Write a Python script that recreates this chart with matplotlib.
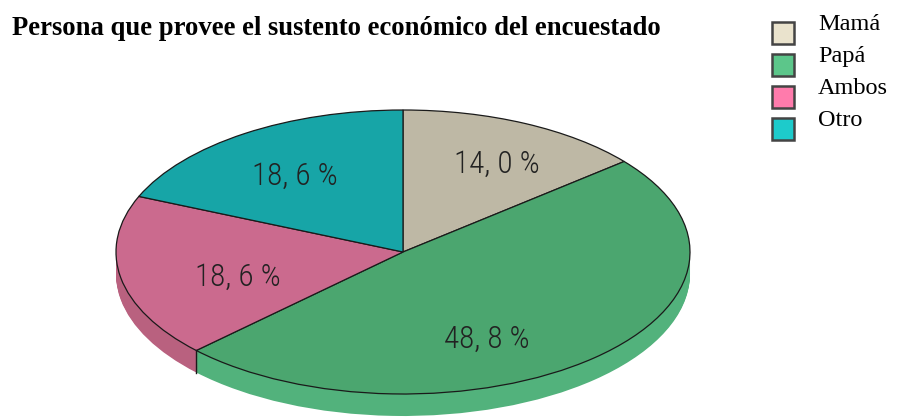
import matplotlib.pyplot as plt
from matplotlib.patches import Rectangle
from matplotlib import font_manager
import numpy as np

categories = ['Mamá', 'Papá', 'Ambos', 'Otro']
values = [14.0, 48.8, 18.6, 18.6]

top_colors = ['#BEB8A5', '#4BA66F', '#CB6A8E', '#17A5A7']
side_colors = ['#ADA794', '#52B27C', '#B9617F', '#14908F']
legend_colors = ['#EAE3CD', '#5CC68A', '#FF7BAC', '#1DCBCB']

# label anchors (data units of the pie, radius 1) to mimic the SPSS placement
label_xy = [(0.328, 0.620), (0.293, -0.613), (-0.575, -0.176), (-0.376, 0.535)]

title = 'Persona que provee el sustento económico del encuestado'

W, H = 897, 418
fig = plt.figure(figsize=(W / 100, H / 100), dpi=100)

depth = 0.155
ax = fig.add_axes([116 / W, 2 / H, 574 / W, 306 / H])

# extruded side: stack of pies shifted downwards
n_layers = 24
for off in np.linspace(-depth, -0.005, n_layers):
    ax.pie(values, colors=side_colors, startangle=90, counterclock=False,
           center=(0, off), radius=1, frame=False,
           wedgeprops=dict(linewidth=0, clip_on=False, antialiased=True))

# top face
wedges, _ = ax.pie(values, colors=top_colors, startangle=90, counterclock=False,
                   center=(0, 0), radius=1, frame=False,
                   wedgeprops=dict(linewidth=0.9, edgecolor='#1a1a1a', clip_on=False))

# vertical seams on the visible front side
cum = np.cumsum(values) / np.sum(values)
for c in cum[:-1]:
    th = np.deg2rad(90 - 360 * c)
    x, y = np.cos(th), np.sin(th)
    if y < 0:
        ax.plot([x, x], [y, y - depth], color='#1a1a1a', lw=1.0, clip_on=False)

names = {f.name for f in font_manager.fontManager.ttflist}
narrow = [n for n in ['Liberation Sans Narrow', 'Roboto Condensed', 'Open Sans Condensed',
                      'DejaVu Sans Condensed'] if n in names]
label_font = dict(family=narrow[0]) if narrow else dict(family='DejaVu Sans', stretch='condensed')

pct_labels = [f'{v:.1f}'.replace('.', ', ') + ' %' for v in values]
for (lx, ly), txt in zip(label_xy, pct_labels):
    ax.text(lx, ly, txt, ha='center', va='center', fontsize=22.5, color='#222222',
            fontweight='light', **label_font)

ax.set_aspect('auto')
ax.set_xlim(-1, 1)
ax.set_ylim(-1 - depth, 1)
ax.axis('off')

fig.text(12 / W, 1 - 35 / H, title, ha='left', va='baseline', fontsize=19.2,
         fontweight='bold', family='Liberation Serif')

# legend drawn by hand (SPSS style: box sits a bit lower than its label)
for i, (lab, col) in enumerate(zip(categories, legend_colors)):
    top = 22 + i * 32
    fig.patches.append(Rectangle((772 / W, 1 - (top + 22) / H), 22 / W, 22 / H,
                                 transform=fig.transFigure, facecolor=col,
                                 edgecolor='#444444', linewidth=1.8))
    fig.text(818 / W, 1 - (30 + i * 32) / H, lab, ha='left', va='baseline',
             fontsize=17.5, family='Liberation Serif')

fig.savefig('out.png', dpi=100)
